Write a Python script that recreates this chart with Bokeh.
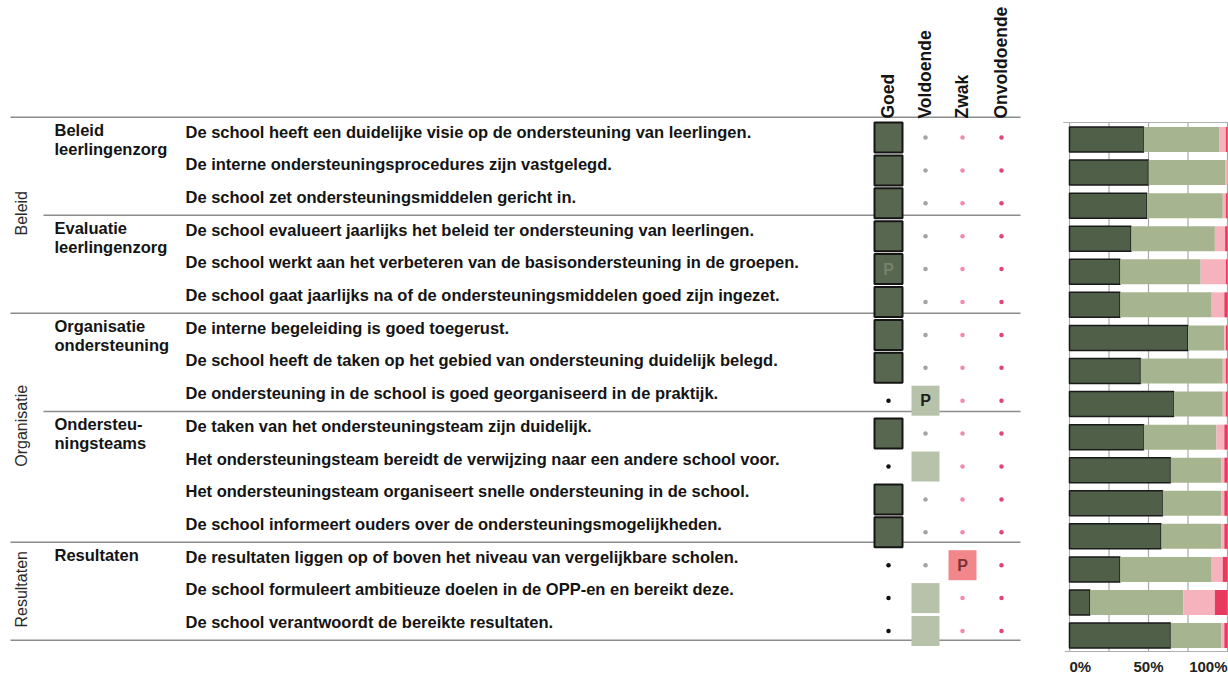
import math
from bokeh.plotting import figure
from bokeh.models import Range1d, ColumnDataSource
from bokeh.core.properties import value
from bokeh.embed import file_html
from bokeh.resources import INLINE

# ---------------- data ----------------
groups = ["Beleid", "Organisatie", "Resultaten"]
group_sizes = [6, 7, 3]
subgroups = ["Beleid\nleerlingenzorg", "Evaluatie\nleerlingenzorg",
             "Organisatie\nondersteuning", "Ondersteu-\nningsteams", "Resultaten"]
subgroup_sizes = [3, 3, 3, 4, 3]
items = [
    "De school heeft een duidelijke visie op de ondersteuning van leerlingen.",
    "De interne ondersteuningsprocedures zijn vastgelegd.",
    "De school zet ondersteuningsmiddelen gericht in.",
    "De school evalueert jaarlijks het beleid ter ondersteuning van leerlingen.",
    "De school werkt aan het verbeteren van de basisondersteuning in de groepen.",
    "De school gaat jaarlijks na of de ondersteuningsmiddelen goed zijn ingezet.",
    "De interne begeleiding is goed toegerust.",
    "De school heeft de taken op het gebied van ondersteuning duidelijk belegd.",
    "De ondersteuning in de school is goed georganiseerd in de praktijk.",
    "De taken van het ondersteuningsteam zijn duidelijk.",
    "Het ondersteuningsteam bereidt de verwijzing naar een andere school voor.",
    "Het ondersteuningsteam organiseert snelle ondersteuning in de school.",
    "De school informeert ouders over de ondersteuningsmogelijkheden.",
    "De resultaten liggen op of boven het niveau van vergelijkbare scholen.",
    "De school formuleert ambitieuze doelen in de OPP-en en bereikt deze.",
    "De school verantwoordt de bereikte resultaten.",
]
columns = ["Goed", "Voldoende", "Zwak", "Onvoldoende"]
ratings = ["Goed"] * 8 + ["Voldoende", "Goed", "Voldoende", "Goed", "Goed",
                          "Zwak", "Voldoende", "Voldoende"]
p_marks = [0, 0, 0, 0, 1, 0, 0, 0, 1, 0, 0, 0, 0, 1, 0, 0]

pct_goed = [47, 50, 49, 39, 32, 32, 75, 45, 66, 47, 64, 59, 58, 32, 13, 64]
pct_voldoende = [48, 48.5, 48, 53, 51, 58, 23, 52, 31, 46, 32, 37, 38, 58, 59, 32]
pct_zwak = [4, 1.5, 2, 6.5, 16, 8, 1, 2, 2, 5, 2, 2, 2, 7, 20, 2]
pct_onvoldoende = [1, 0, 1, 1.5, 1, 2, 1, 1, 1, 2, 2, 2, 2, 3, 8, 2]

tick_vals = [0, 50, 100]
tick_labels = ["0%", "50%", "100%"]

# ---------------- layout / style ----------------
W, H, OFF = 1228, 679, 0
FONT = value("Liberation Sans")
TXT = "#141414"

TEXT_Y0, TEXT_PITCH = 131, 32.7
MAT_Y0, MAT_PITCH = 137, 32.9
BAR_Y0, BAR_PITCH = 139, 33.07
COL_X = [888, 925, 962, 1001]
PCT0_PX, PCT100_PX = 1069, 1227

n = len(items)
ty = [TEXT_Y0 + i * TEXT_PITCH for i in range(n)]
my = [MAT_Y0 + i * MAT_PITCH for i in range(n)]
by = [BAR_Y0 + i * BAR_PITCH for i in range(n)]

p = figure(width=W, height=H, output_backend="svg", toolbar_location=None,
           x_range=Range1d(OFF, OFF + W), y_range=Range1d(OFF + H, OFF),
           min_border=0, outline_line_color=None, background_fill_color="white")
p.axis.visible = False
p.xgrid.visible = False
p.ygrid.visible = False

scale = (PCT100_PX - PCT0_PX) / 100.0
pct_start = -(PCT0_PX - OFF) / scale
pct_end = pct_start + W / scale
p.extra_x_ranges = {"pct": Range1d(pct_start, pct_end)}

# ---------- separator lines ----------
sub_bounds = [0]
for s in subgroup_sizes:
    sub_bounds.append(sub_bounds[-1] + s)
grp_bounds = [0]
for s in group_sizes:
    grp_bounds.append(grp_bounds[-1] + s)
x0s, x1s, ys = [], [], []
for k in sub_bounds:
    yv = TEXT_Y0 + (k - 0.5) * TEXT_PITCH + 2
    x0s.append(10 if k in grp_bounds else 43)
    x1s.append(1020)
    ys.append(yv)
p.segment(x0=x0s, y0=ys, x1=x1s, y1=ys, line_color="#8c8c8c", line_width=1.5)

# ---------- group labels (vertical) ----------
for gi, g in enumerate(groups):
    a, b = grp_bounds[gi], grp_bounds[gi + 1] - 1
    yc = (ty[a] + ty[b]) / 2
    p.text(x=[21], y=[yc], text=[g], angle=math.pi / 2, text_align="center",
           text_baseline="middle", text_font=FONT, text_font_size="16px",
           text_font_style="normal", text_color="#2a2a2a")

# ---------- subgroup labels ----------
for si, s in enumerate(subgroups):
    r = sub_bounds[si]
    for li, line in enumerate(s.split("\n")):
        p.text(x=[54], y=[ty[r] - 2 + li * 19], text=[line], text_align="left",
               text_baseline="middle", text_font=FONT, text_font_size="16.5px",
               text_font_style="bold", text_color=TXT)

# ---------- item texts ----------
p.text(x=[185] * n, y=ty, text=items, text_align="left", text_baseline="middle",
       text_font=FONT, text_font_size="16.5px", text_font_style="bold", text_color=TXT)

# ---------- column headers ----------
for j, c in enumerate(columns):
    p.text(x=[COL_X[j] - 1], y=[118], text=[c], angle=math.pi / 2, text_align="left",
           text_baseline="middle", text_font=FONT, text_font_size="17.5px",
           text_font_style="bold", text_color=TXT)

# ---------- matrix ----------
sq_fill = {"Goed": "#58674f", "Voldoende": "#b7c2aa", "Zwak": "#f2878b"}
sq_line = {"Goed": "#151515", "Voldoende": None, "Zwak": None}
p_col = {"Goed": "#76816b", "Voldoende": "#1e1e1e", "Zwak": "#7a3434"}
dot_col = ["#111111", "#a3a3a3", "#f08ca8", "#df457a"]

for j, c in enumerate(columns):
    sx = [COL_X[j] for i in range(n) if ratings[i] == c]
    sy = [my[i] for i in range(n) if ratings[i] == c]
    if sx:
        p.rect(x=sx, y=sy, width=28, height=30, fill_color=sq_fill[c],
               line_color=sq_line[c], line_width=2 if sq_line[c] else 0)
        px = [COL_X[j] for i in range(n) if ratings[i] == c and p_marks[i]]
        py = [my[i] for i in range(n) if ratings[i] == c and p_marks[i]]
        if px:
            p.text(x=px, y=py, text=["P"] * len(px), text_align="center",
                   text_baseline="middle", text_font=FONT, text_font_size="16px",
                   text_font_style="bold", text_color=p_col[c])
    dx = [COL_X[j] for i in range(n) if ratings[i] != c]
    dy = [my[i] for i in range(n) if ratings[i] != c]
    p.scatter(x=dx, y=dy, size=4.5, fill_color=dot_col[j], line_color=None)

# ---------- stacked bars ----------
grid_vals = [0, 25, 50, 75, 100]
p.segment(x0=grid_vals, y0=[122] * 5, x1=grid_vals, y1=[651] * 5,
          line_color="#a8a8a8", line_width=1.2, x_range_name="pct")
p.segment(x0=[-4, -3], y0=[122, 651], x1=[101, 101], y1=[122, 651],
          line_color="#b0b0b0", line_width=1.2, x_range_name="pct")

series = [pct_goed, pct_voldoende, pct_zwak, pct_onvoldoende]
bar_cols = ["#4f5f48", "#a6b58f", "#f6b2bd", "#e8395f"]
left = [0.0] * n
for si, vals in enumerate(series):
    right = [left[i] + vals[i] for i in range(n)]
    src = ColumnDataSource(dict(y=by, left=left, right=right))
    if si == 0:
        p.hbar(y="y", left="left", right="right", height=25, source=src,
               fill_color=bar_cols[si], line_color="#1a1a1a", line_width=1.5,
               x_range_name="pct")
    else:
        p.hbar(y="y", left="left", right="right", height=25, source=src,
               fill_color=bar_cols[si], line_color=None, x_range_name="pct")
    left = right

aligns = ["left", "center", "right"]
for k in range(len(tick_vals)):
    p.text(x=[tick_vals[k]], y=[666], text=[tick_labels[k]], text_align=aligns[k],
           text_baseline="middle", text_font=FONT, text_font_size="15px",
           text_font_style="bold", text_color="#222222", x_range_name="pct")

open("out.html", "w").write(file_html(p, INLINE))
